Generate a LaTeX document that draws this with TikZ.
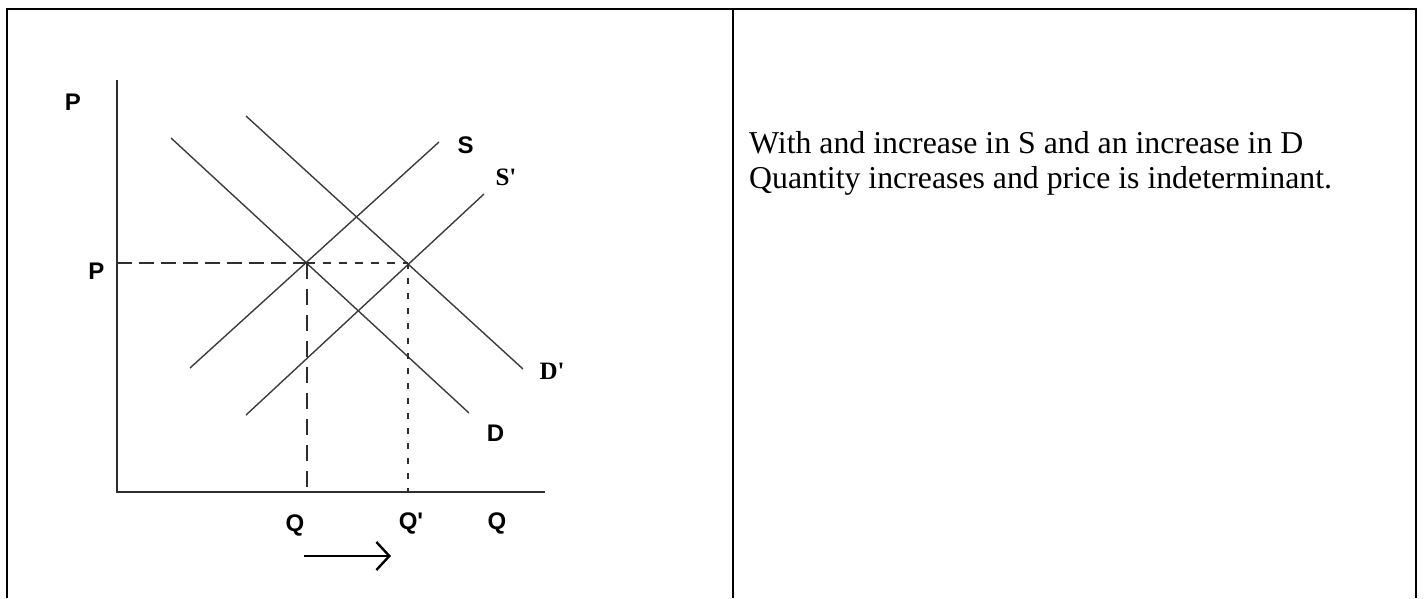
\documentclass[tikz,border=0pt]{standalone}
\usepackage{fontspec}
\setmainfont{Liberation Serif}
\newfontfamily\labsans{Liberation Sans}
\usetikzlibrary{arrows.meta}
\definecolor{axisgray}{HTML}{2E2E2E}
\definecolor{curvegray}{HTML}{3C3C3C}
\begin{document}
\begin{tikzpicture}[x=1pt,y=-1pt,
  frame/.style={line width=2.2pt,black},
  axisline/.style={line width=2.4pt,color=axisgray},
  curve/.style={line width=1.4pt,color=curvegray},
  guidelong/.style={line width=1.8pt,color=axisgray,dash pattern=on 15pt off 7pt},
  guideshort/.style={line width=1.8pt,color=axisgray,dash pattern=on 8pt off 8pt},
  guidevlong/.style={line width=1.8pt,color=axisgray,dash pattern=on 16pt off 10pt},
  guidevshort/.style={line width=1.8pt,color=axisgray,dash pattern=on 6pt off 9pt},
  lab/.style={font=\labsans\bfseries\fontsize{24}{24}\selectfont,inner sep=0pt},
  labserif/.style={font=\bfseries\fontsize{25}{25}\selectfont,inner sep=0pt},
  body/.style={font=\fontsize{31.8}{36}\selectfont,inner sep=0pt,anchor=base west},
  arrowline/.style={line width=2.4pt,black,-{Straight Barb[length=13pt,width=28pt]}}
]
\useasboundingbox (0,0) rectangle (1424,598);
% table frame
\coordinate (tl) at (7,9);
\coordinate (tr) at (1416,9);
\coordinate (tm) at (733,9);
\coordinate (bl) at (7,598);
\coordinate (br) at (1416,598);
\coordinate (bm) at (733,598);
\draw[frame] (bl) -- (tl) -- (tr) -- (br);
\draw[frame] (tm) -- (bm);
% axes
\coordinate (O) at (117,492);
\coordinate (ytop) at (117,80);
\coordinate (xend) at (545,492);
\draw[axisline] (ytop) -- (O) -- (xend);
% equilibria
\coordinate (E1) at (307,263);
\coordinate (E2) at (408,263);
\coordinate (PY) at (117,263);
\coordinate (Q1) at (307,492);
\coordinate (Q2) at (408,492);
% curves
\coordinate (Da) at (171,138);
\coordinate (Db) at (469,413);
\coordinate (DPa) at (246,116);
\coordinate (DPb) at (523,369);
\coordinate (Sa) at (190,368);
\coordinate (Sb) at (439,142);
\coordinate (SPa) at (246,415);
\coordinate (SPb) at (484,194);
\draw[curve] (Da) -- (Db);
\draw[curve] (DPa) -- (DPb);
\draw[curve] (Sa) -- (Sb);
\draw[curve] (SPa) -- (SPb);
% guides
\draw[guidelong] (PY) -- (E1);
\draw[guideshort] (E1) -- (E2);
\draw[guidevlong] (E1) -- (Q1);
\draw[guidevshort] (E2) -- (Q2);
% labels
\node[lab] (lP1) at (73,102) {P};
\node[lab] (lP2) at (96.5,271) {P};
\node[lab] (lS) at (465.5,145) {S};
\node[labserif] (lSp) at (506,177.5) {S\textquotesingle};
\node[labserif] (lDp) at (552,371) {D\textquotesingle};
\node[lab] (lD) at (495.5,433.5) {D};
\node[lab] (lQ1) at (295,525) {Q};
\node[lab] (lQ2) at (411,523) {Q\textquotesingle};
\node[lab] (lQ3) at (497,523) {Q};
% arrow
\coordinate (arrS) at (304,556);
\coordinate (arrE) at (391,556);
\draw[arrowline] (arrS) -- (arrE);
% text
\node[body] (t1) at (749,153) {With and increase in S and an increase in D};
\node[body] (t2) at (749,188) {Quantity increases and price is indeterminant.};
\end{tikzpicture}
\end{document}
